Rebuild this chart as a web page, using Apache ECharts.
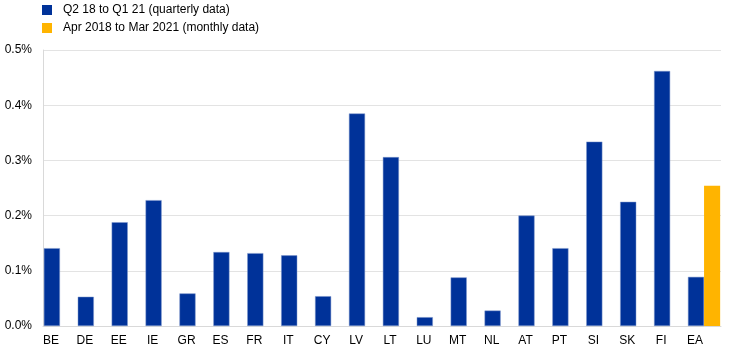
<!DOCTYPE html>
<html>
<head>
<meta charset="utf-8">
<script src="https://cdn.jsdelivr.net/npm/echarts@6/dist/echarts.min.js"></script>
<style>
  html, body { margin: 0; padding: 0; background: #fff; }
  #chart { width: 744px; height: 354px; }
</style>
</head>
<body>
<div id="chart"></div>
<script>
let countries = ['BE', 'DE', 'EE', 'IE', 'GR', 'ES', 'FR', 'IT', 'CY', 'LV', 'LT', 'LU', 'MT', 'NL', 'AT', 'PT', 'SI', 'SK', 'FI', 'EA'];
let quarterly = [0.141, 0.053, 0.188, 0.228, 0.059, 0.134, 0.132, 0.128, 0.054, 0.385, 0.306, 0.016, 0.088, 0.028, 0.200, 0.141, 0.334, 0.225, 0.462, 0.089];
// monthly data only for the euro area
let monthly = [null, null, null, null, null, null, null, null, null, null, null, null, null, null, null, null, null, null, null, 0.254];
let yTicks = [0, 0.1, 0.2, 0.3, 0.4, 0.5];

let chartDom = document.getElementById('chart');
let myChart = echarts.init(chartDom);
let option;

option = {
    animation: false,
    textStyle: { fontFamily: 'Liberation Sans, Arial, sans-serif' },
    legend: {
        orient: 'vertical',
        left: 42,
        top: 3,
        padding: 0,
        itemWidth: 10,
        itemHeight: 10,
        itemGap: 4,
        icon: 'rect',
        itemStyle: { borderWidth: 0 },
        textStyle: { fontSize: 12, color: '#000', lineHeight: 14, padding: [0, 0, 0, 6] },
        data: ['Q2 18 to Q1 21 (quarterly data)', 'Apr 2018 to Mar 2021 (monthly data)']
    },
    grid: { left: 43, right: 23, top: 50, bottom: 28 },
    xAxis: {
        type: 'category',
        data: countries,
        axisLine: { lineStyle: { color: '#d9d9d9' } },
        axisTick: { show: false },
        axisLabel: { color: '#000', fontSize: 12, margin: 9, padding: [0, 18, 0, 0] }
    },
    yAxis: {
        type: 'value',
        min: yTicks[0],
        max: yTicks[yTicks.length - 1],
        interval: 0.1,
        axisLine: { show: true, lineStyle: { color: '#d9d9d9' } },
        splitLine: { lineStyle: { color: '#e3e3e3', width: 1 } },
        axisLabel: {
            color: '#000',
            fontSize: 12,
            margin: 11,
            formatter: function(v){ return v.toFixed(1) + '%'; }
        }
    },
    series: [
        {
            name: 'Q2 18 to Q1 21 (quarterly data)',
            type: 'bar',
            data: quarterly,
            barGap: '0%',
            barCategoryGap: '5%',
            itemStyle: { color: '#003299', borderColor: '#7f98cc', borderWidth: 0.5 }
        },
        {
            name: 'Apr 2018 to Mar 2021 (monthly data)',
            type: 'bar',
            data: monthly,
            itemStyle: { color: '#ffb400' }
        }
    ]
};

option && myChart.setOption(option);
</script>
</body>
</html>
